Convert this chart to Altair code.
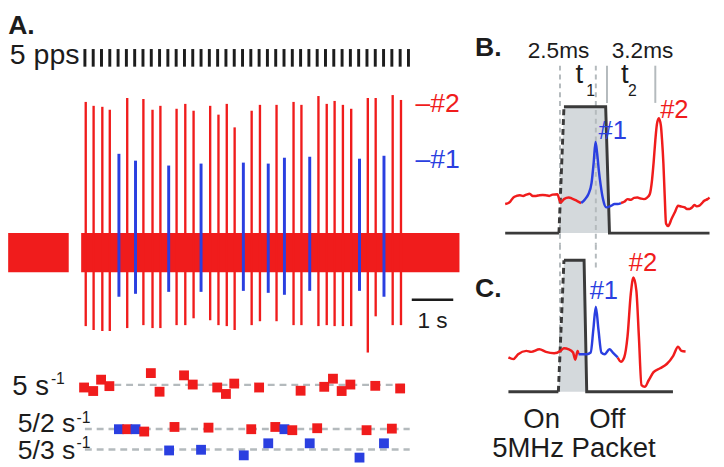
import altair as alt
import pandas as pd

RED = "#f01c1c"
BLUE = "#2a3fe0"
DARK = "#1c1c1c"
EDGE = "#3a3a3a"
FILL = "#d4d9dc"
GREY = "#b4babd"
FONT = "Liberation Sans"

# ---------------- Panel A data (time in s, amplitude in a.u.) ----------------
stim_t = [2.0, 2.2, 2.4, 2.6, 2.8, 3.0, 3.2, 3.4, 3.6, 3.8,
          4.0, 4.2, 4.4, 4.6, 4.8, 5.0, 5.2, 5.4, 5.6, 5.8,
          6.0, 6.2, 6.4, 6.6, 6.8, 7.0, 7.2, 7.4, 7.6, 7.8,
          8.0, 8.2, 8.4, 8.6, 8.8, 9.0, 9.2, 9.4, 9.6, 9.8]

red_spike_t = [2.02, 2.21, 2.42, 2.60, 3.02, 3.41, 3.63, 3.82, 4.21, 4.42,
               4.62, 5.02, 5.22, 5.42, 5.61, 6.02, 6.22, 6.62, 7.03, 7.22,
               7.63, 7.83, 8.02, 8.22, 8.42, 8.82, 9.01, 9.42, 9.62]
red_spike_top = [154, 150, 149, 146, 158, 157, 146, 150, 147, 152,
                 145, 150, 141, 152, 128, 145, 151, 151, 154, 151,
                 160, 152, 155, 151, 147, 158, 158, 161, 156]
red_spike_bot = [-75, -79, -80, -80, -77, -74, -77, -77, -74, -74,
                 -67, -69, -74, -75, -79, -74, -70, -70, -74, -74,
                 -75, -74, -75, -75, -75, -102, -65, -74, -74]

blue_spike_t = [2.82, 3.22, 4.02, 4.80, 5.82, 6.42, 6.81, 7.42, 8.62, 9.21]
blue_spike_top = [101, 94, 89, 91, 92, 91, 97, 98, 96, 99]
blue_spike_bot = [-45, -42, -40, -40, -39, -41, -43, -39, -39, -45]

noise_t0 = [0.15, 1.91]
noise_t1 = [1.61, 11.03]
noise_lo = [-20, -20]
noise_hi = [20, 20]

# raster rows
row_name = ["5 s", "5/2 s", "5/3 s"]
row_y = [81, 36, 15]
row_t0 = [2.71, 2.00, 2.00]
row_t1 = [9.80, 9.83, 9.83]

r5_t = [1.98, 2.20, 2.39, 2.59, 3.59, 3.80, 4.39, 4.60, 5.19, 5.40,
        5.60, 6.20, 7.20, 7.77, 7.98, 8.19, 8.40, 9.00, 9.60]
r5_y = [78.3, 74.7, 86.3, 79.7, 93.0, 74.0, 90.7, 81.3, 78.3, 71.7,
        82.3, 78.3, 75.0, 79.0, 87.3, 74.7, 81.3, 80.0, 77.3]
r52_t = [2.82, 3.02, 3.22, 3.43, 4.16, 4.98, 6.01, 6.59, 6.81, 7.00, 7.60, 8.79, 9.40]
r52_y = [35.7, 35.7, 35.7, 33.3, 38.0, 37.3, 35.7, 38.0, 35.7, 34.7, 36.7, 34.7, 36.3]
r52_unit = ["#1", "#2", "#1", "#2", "#2", "#2", "#2", "#2", "#1", "#2", "#2", "#2", "#2"]
r53_t = [4.03, 4.80, 5.83, 6.42, 7.42, 8.62, 9.21]
r53_y = [14.0, 14.7, 9.0, 21.3, 21.3, 6.7, 21.3]

# ---------------- Panel B data (time in ms) ----------------
b_red_pre_ms = [-3.73, -3.40, -3.18, -2.96, -2.73, -2.51, -2.29, -2.07, -1.85, -1.63, -1.40,
                -1.18, -0.96, -0.73, -0.51, -0.18, 0.04, 0.27, 0.60, 0.82, 1.15, 1.44]
b_red_pre_v = [29.7, 32.0, 36.3, 38.0, 38.7, 38.0, 39.3, 40.3, 38.0, 38.0, 38.7,
               39.0, 38.7, 38.0, 39.3, 39.7, 31.3, 34.7, 36.3, 35.3, 33.0, 30.7]
b_blue_ms = [1.44, 1.71, 1.93, 2.15, 2.29, 2.42, 2.53, 2.64, 2.78, 2.93, 3.15, 3.49, 3.71, 3.93, 4.15]
b_blue_v = [30.7, 34.7, 39.7, 51.3, 71.3, 93.0, 81.3, 64.7, 48.0, 34.7, 26.3, 28.0, 29.7, 29.7, 30.7]
b_red_post_ms = [4.15, 4.37, 4.60, 4.82, 5.04, 5.27, 5.49, 5.71, 5.93, 6.11,
                 6.27, 6.37, 6.49, 6.60, 6.73, 6.87, 6.95, 7.04, 7.13, 7.22,
                 7.37, 7.60, 7.82, 8.04, 8.27, 8.49, 8.64, 8.82, 9.00, 9.15,
                 9.31, 9.49, 9.67, 9.82, 10.04, 10.18]
b_red_post_v = [30.7, 32.0, 34.7, 34.0, 36.0, 36.3, 35.3, 34.7, 36.3, 39.7,
                54.7, 71.3, 94.7, 111.3, 117.3, 109.7, 94.7, 71.3, 38.0, 9.7,
                7.3, 14.7, 21.3, 28.0, 27.0, 26.3, 24.7, 24.7, 26.3, 28.7,
                27.3, 28.0, 30.7, 33.0, 34.7, 36.3]
b_pulse_ms = [-0.07, 0.27, 3.11, 3.37]
b_pulse_v = [0, 129, 129, 0]
b_base_ms = [-3.73, 10.18]
b_dash_ms = [0.0, 2.44]
b_solid_ms = [3.20, 6.49]

# ---------------- Panel C data (time in ms) ----------------
c_red_pre_ms = [-3.51, -3.18, -2.85, -2.29, -1.96, -1.40, -0.96, -0.40, 0.04, 0.27, 0.60, 0.89, 1.04, 1.20, 1.27]
c_red_pre_v = [35.0, 33.3, 38.3, 41.7, 40.7, 43.3, 40.7, 39.3, 41.7, 44.3, 43.3, 40.0, 32.7, 41.7, 38.3]
c_blue_ms = [1.27, 1.64, 1.82, 2.09, 2.27, 2.44, 2.62, 2.82, 3.04, 3.37, 3.60, 3.93]
c_blue_v = [38.3, 38.3, 38.3, 40.0, 63.3, 86.7, 63.3, 40.0, 38.3, 43.3, 40.0, 35.0]
c_red_post_ms = [3.93, 4.15, 4.37, 4.60, 4.82, 5.00, 5.20, 5.37, 5.55, 5.77, 6.04, 6.37, 6.82, 7.27, 7.71, 8.04, 8.27, 8.55]
c_red_post_v = [35.0, 30.7, 35.0, 56.7, 100.0, 116.7, 103.3, 56.7, 6.7, 5.0, 11.7, 20.0, 24.0, 28.3, 36.7, 46.0, 41.7, 41.0]
c_pulse_ms = [-0.11, 0.27, 1.64, 1.82]
c_pulse_v = [0, 134.3, 134.3, 0]
c_base_ms = [-3.51, 7.69]
c_dash_ms = [0.0, 2.44]
c_dash_end = [0, 123]

# ---------------- layout / scales ----------------
# reference extents (px) of each region, fitted from the page margin to the
# right / bottom edge of the window.
REF_WA, REF_WB = 477, 240
HA1, HA2, HA3 = 59, 291, 107
HB, HC = 235, 222
W_TOTAL = 713
WA = round(REF_WA * W_TOTAL / (REF_WA + REF_WB))
WB = W_TOTAL - WA
H = 455
PX_PER_S = 42.45
PX_PER_MS = 15.0
TA0 = 0.146
MS0 = -5.847

SX_A = alt.Scale(domain=[TA0, TA0 + REF_WA / PX_PER_S], nice=False, zero=False)
SX_B = alt.Scale(domain=[MS0, MS0 + REF_WB / PX_PER_MS], nice=False, zero=False)
# each sub-panel has its own y scale spanning the full column height
SY_A1 = alt.Scale(domain=[0 - (HA2 + HA3), HA1], nice=False, zero=False)
SY_A2 = alt.Scale(domain=[-107 - HA3, 184 + HA1], nice=False, zero=False)
SY_A3 = alt.Scale(domain=[2, 109 + HA1 + HA2], nice=False, zero=False)
SY_B = alt.Scale(domain=[-12 - HC, 223], nice=False, zero=False)
SY_C = alt.Scale(domain=[-72, 150 + HB], nice=False, zero=False)


def X(f, s):
    return alt.X(f, type="quantitative", scale=s, axis=None)


def Y(f, s):
    return alt.Y(f, type="quantitative", scale=s, axis=None)


def label(text, x, y, sx, sy, size, color=DARK, align="left", bold=False):
    df = pd.DataFrame({"x": [x], "y": [y], "label": [text]})
    return alt.Chart(df).mark_text(
        align=align, baseline="alphabetic", font=FONT, fontSize=size,
        fontWeight="bold" if bold else "normal", color=color
    ).encode(x=X("x", sx), y=Y("y", sy), text="label:N")


# ---------------- Panel A ----------------
stim_df = pd.DataFrame({"t": stim_t, "y0": [24] * len(stim_t), "y1": [6] * len(stim_t)})
A1 = alt.layer(
    alt.Chart(stim_df).mark_rule(color=DARK, strokeWidth=3).encode(
        x=X("t", SX_A), y=Y("y0", SY_A1), y2="y1"),
    label("A.", 0.15, 39, SX_A, SY_A1, 27, bold=True),
    label("5 pps", 1.87, 9, SX_A, SY_A1, 29, align="right"),
)

red_df = pd.DataFrame({"t": red_spike_t, "top": red_spike_top, "bot": red_spike_bot})
blue_df = pd.DataFrame({"t": blue_spike_t, "top": blue_spike_top, "bot": blue_spike_bot})
noise_df = pd.DataFrame({"t0": noise_t0, "t1": noise_t1, "lo": noise_lo, "hi": noise_hi})
bar_df = pd.DataFrame({"t0": [9.88], "t1": [10.88], "v": [-48]})

A2 = alt.layer(
    alt.Chart(noise_df).mark_rect(color=RED).encode(
        x=X("t0", SX_A), x2="t1", y=Y("lo", SY_A2), y2="hi"),
    alt.Chart(red_df).mark_rule(color=RED, strokeWidth=2.4).encode(
        x=X("t", SX_A), y=Y("top", SY_A2), y2="bot"),
    alt.Chart(blue_df).mark_rule(color=BLUE, strokeWidth=3).encode(
        x=X("t", SX_A), y=Y("top", SY_A2), y2="bot"),
    alt.Chart(bar_df).mark_rule(color=DARK, strokeWidth=2.5).encode(
        x=X("t0", SX_A), x2="t1", y=Y("v", SY_A2)),
    label("1 s", 10.38, -77, SX_A, SY_A2, 23, align="center"),
    label("\u2013#2", 9.97, 144, SX_A, SY_A2, 27, color=RED),
    label("\u2013#1", 9.97, 86, SX_A, SY_A2, 27, color=BLUE),
)

rows_df = pd.DataFrame({"name": row_name, "y": row_y, "t0": row_t0, "t1": row_t1})
sq_df = pd.concat([
    pd.DataFrame({"t": r5_t, "y": r5_y, "unit": ["#2"] * len(r5_t)}),
    pd.DataFrame({"t": r52_t, "y": r52_y, "unit": r52_unit}),
    pd.DataFrame({"t": r53_t, "y": r53_y, "unit": ["#1"] * len(r53_t)}),
], ignore_index=True)

A3 = alt.layer(
    alt.Chart(rows_df).mark_rule(color=GREY, strokeWidth=2.5, strokeDash=[7, 5]).encode(
        x=X("t0", SX_A), x2="t1", y=Y("y", SY_A3)),
    alt.Chart(sq_df).mark_square(size=100, opacity=1).encode(
        x=X("t", SX_A), y=Y("y", SY_A3),
        color=alt.Color("unit:N", scale=alt.Scale(domain=["#1", "#2"], range=[BLUE, RED]), legend=None)),
    label("5 s", 1.135, 70.7, SX_A, SY_A3, 28, align="right"),
    label("-1", 1.18, 82.3, SX_A, SY_A3, 16),
    label("5/2 s", 1.77, 33.3, SX_A, SY_A3, 27, align="right"),
    label("-1", 1.80, 42.3, SX_A, SY_A3, 16),
    label("5/3 s", 1.77, 5.7, SX_A, SY_A3, 27, align="right"),
    label("-1", 1.80, 16.0, SX_A, SY_A3, 16),
)

A = alt.layer(A1, A2, A3).resolve_scale(y="independent").properties(width=WA, height=H)


# ---------------- Panels B and C ----------------
def pulse_layers(pulse_ms, pulse_v, base_ms, sy):
    fill_df = pd.DataFrame({"ms": pulse_ms, "v": pulse_v, "v0": [0] * len(pulse_ms)})
    outline_df = pd.DataFrame({
        "ms": [base_ms[0], pulse_ms[0]] + pulse_ms[1:] + [base_ms[1]],
        "v": [0, pulse_v[0]] + pulse_v[1:] + [0],
        "seg": ["L", "L"] + ["R"] * (len(pulse_ms) - 1) + ["R"],
    })
    edge_df = pd.DataFrame({"ms": pulse_ms[:2], "v": pulse_v[:2]})
    fill = alt.Chart(fill_df).mark_area(color=FILL, opacity=1).encode(
        x=X("ms", SX_B), y=Y("v", sy), y2="v0")
    outline = alt.Chart(outline_df).mark_line(color=EDGE, strokeWidth=3).encode(
        x=X("ms", SX_B), y=Y("v", sy), detail="seg:N")
    edge = alt.Chart(edge_df).mark_line(color=EDGE, strokeWidth=3, strokeDash=[6, 4]).encode(
        x=X("ms", SX_B), y=Y("v", sy))
    return fill, outline, edge


def trace(ms, v, color, sy):
    return alt.Chart(pd.DataFrame({"ms": ms, "v": v})).mark_line(
        color=color, strokeWidth=2.5, interpolate="monotone").encode(
        x=X("ms", SX_B), y=Y("v", sy))


bf, bo, be = pulse_layers(b_pulse_ms, b_pulse_v, b_base_ms, SY_B)
b_dash_df = pd.DataFrame({"ms": b_dash_ms, "top": [171, 171], "bot": [-12, -12]})
b_solid_df = pd.DataFrame({"ms": b_solid_ms, "top": [171, 171], "bot": [133, 133]})
B = alt.layer(
    bf,
    alt.Chart(b_dash_df).mark_rule(color=GREY, strokeWidth=2, strokeDash=[5, 4]).encode(
        x=X("ms", SX_B), y=Y("top", SY_B), y2="bot"),
    alt.Chart(b_solid_df).mark_rule(color=GREY, strokeWidth=2).encode(
        x=X("ms", SX_B), y=Y("top", SY_B), y2="bot"),
    bo, be,
    trace(b_red_pre_ms, b_red_pre_v, RED, SY_B),
    trace(b_red_post_ms, b_red_post_v, RED, SY_B),
    trace(b_blue_ms, b_blue_v, BLUE, SY_B),
    label("B.", -5.78, 181, SX_B, SY_B, 27, bold=True),
    label("2.5ms", -0.10, 179, SX_B, SY_B, 23, align="center"),
    label("3.2ms", 5.62, 179, SX_B, SY_B, 23, align="center"),
    label("t", 1.32, 153, SX_B, SY_B, 28, align="center"),
    label("1", 2.09, 140, SX_B, SY_B, 16, align="center"),
    label("t", 4.42, 153, SX_B, SY_B, 28, align="center"),
    label("2", 4.93, 140, SX_B, SY_B, 16, align="center"),
    label("#1", 2.62, 96, SX_B, SY_B, 26, color=BLUE),
    label("#2", 6.82, 118, SX_B, SY_B, 26, color=RED),
)

cf, co, ce = pulse_layers(c_pulse_ms, c_pulse_v, c_base_ms, SY_C)
c_dash_df = pd.DataFrame({"ms": c_dash_ms, "top": [150, 150], "bot": c_dash_end})
C = alt.layer(
    alt.Chart(c_dash_df).mark_rule(color=GREY, strokeWidth=2, strokeDash=[5, 4]).encode(
        x=X("ms", SX_B), y=Y("top", SY_C), y2="bot"),
    cf, co, ce,
    trace(c_red_pre_ms, c_red_pre_v, RED, SY_C),
    trace(c_red_post_ms, c_red_post_v, RED, SY_C),
    trace(c_blue_ms, c_blue_v, BLUE, SY_C),
    label("C.", -5.78, 97, SX_B, SY_C, 27, bold=True),
    label("#1", 2.02, 95, SX_B, SY_C, 26, color=BLUE),
    label("#2", 4.69, 123, SX_B, SY_C, 26, color=RED),
    label("On", -1.25, -36.7, SX_B, SY_C, 28, align="center"),
    label("Off", 3.22, -36.7, SX_B, SY_C, 28, align="center"),
    label("5MHz Packet", 0.95, -66.7, SX_B, SY_C, 28, align="center"),
)

BC = alt.layer(B, C).resolve_scale(y="independent").properties(width=WB, height=H)

chart = alt.hconcat(A, BC, spacing=0, bounds="flush", padding=0).configure(
    font=FONT
).configure_view(stroke=None).configure_axis(disable=True).configure_legend(disable=True)

chart.save("out.html", embed_options={"renderer": "svg", "actions": False})
